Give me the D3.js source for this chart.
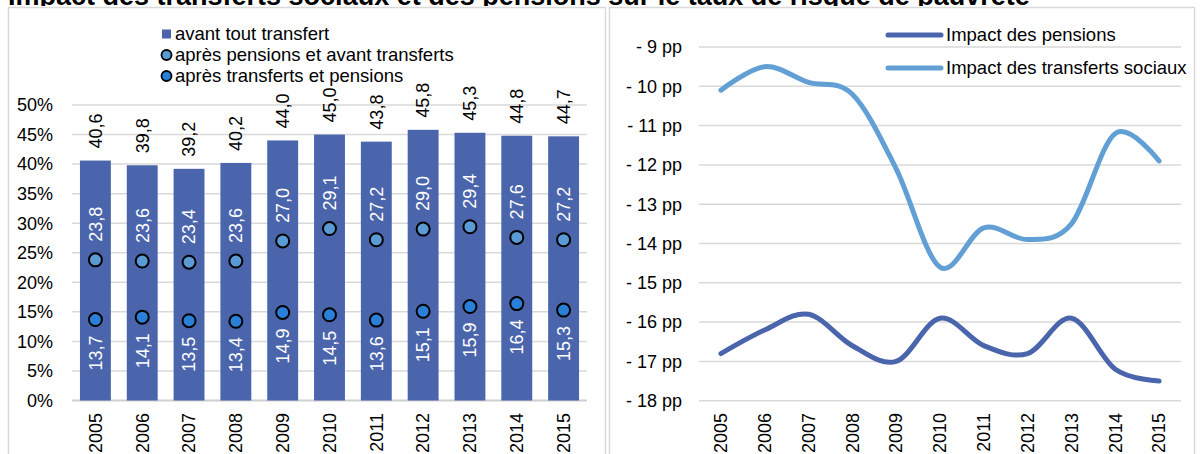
<!DOCTYPE html>
<html>
<head>
<meta charset="utf-8">
<script src="https://cdn.jsdelivr.net/npm/d3@7"></script>
<style>
  html, body { margin: 0; padding: 0; background: #fff; }
  svg { display: block; font-family: "Liberation Sans", Arial, sans-serif; }
</style>
</head>
<body>
<svg id="chart" width="1200" height="454"></svg>
<script>
// Taux de risque de pauvreté (%), par année
const years = ["2005","2006","2007","2008","2009","2010","2011","2012","2013","2014","2015"];
const avantTout = [40.6, 39.8, 39.2, 40.2, 44.0, 45.0, 43.8, 45.8, 45.3, 44.8, 44.7];
const apresPensions = [23.8, 23.6, 23.4, 23.6, 27.0, 29.1, 27.2, 29.0, 29.4, 27.6, 27.2];
const apresTransferts = [13.7, 14.1, 13.5, 13.4, 14.9, 14.5, 13.6, 15.1, 15.9, 16.4, 15.3];

// Impact en points de pourcentage
const impactPensions = [-16.8, -16.2, -15.8, -16.6, -17.0, -15.9, -16.6, -16.8, -15.9, -17.2, -17.5];
const impactTransferts = [-10.1, -9.5, -9.9, -10.2, -12.1, -14.6, -13.6, -13.9, -13.5, -11.2, -11.9];

// Graduations
const pctTicks = [0, 5, 10, 15, 20, 25, 30, 35, 40, 45, 50];
const ppTicks = [-9, -10, -11, -12, -13, -14, -15, -16, -17, -18];

const legendLeft = ["avant tout transfert", "après pensions et avant transferts", "après transferts et pensions"];
const legendRight = ["Impact des pensions", "Impact des transferts sociaux"];
const titleText = "Impact des transferts sociaux et des pensions sur le taux de risque de pauvreté";

const C_BAR = "#4a65ac";
const C_MID = "#5b9bd5";
const C_LOW = "#2a80d8";
const C_PENS = "#4a65ac";
const C_TRANS = "#629fd4";
const C_GRID = "#d9d9d9";
const FS = 18;
const fmt = v => v.toFixed(1).replace(".", ",");

const svg = d3.select("#chart");

// Titre (coupé en haut)
svg.append("defs").append("clipPath").attr("id", "titleClip")
  .append("rect").attr("x", 0).attr("y", 0).attr("width", 1200).attr("height", 6);
svg.append("text")
  .attr("clip-path", "url(#titleClip)")
  .attr("x", 8).attr("y", 5)
  .attr("font-size", 27).attr("font-weight", "bold").attr("fill", "#000")
  .text(titleText);

// Cadres des deux panneaux
svg.append("rect").attr("x", 8.5).attr("y", 7.5).attr("width", 597).attr("height", 460)
  .attr("fill", "none").attr("stroke", C_GRID).attr("stroke-width", 1.5);
svg.append("rect").attr("x", 609.5).attr("y", 7.5).attr("width", 585).attr("height", 460)
  .attr("fill", "none").attr("stroke", C_GRID).attr("stroke-width", 1.5);

// ---------- Panneau gauche : barres + marqueurs ----------
const xL = d3.scaleBand().domain(years).range([72, 587]).paddingInner(0.34).paddingOuter(0.17);
const yL = d3.scaleLinear().domain([0, 50]).range([400.5, 105]);

const gL = svg.append("g");
gL.selectAll("line.grid").data(pctTicks).join("line")
  .attr("x1", 72).attr("x2", 587)
  .attr("y1", d => yL(d)).attr("y2", d => yL(d))
  .attr("stroke", d => d === 0 ? "#cfcfcf" : C_GRID)
  .attr("stroke-width", d => d === 0 ? 2 : 1.5);

gL.selectAll("text.ytick").data(pctTicks).join("text")
  .attr("x", 53).attr("y", d => yL(d)).attr("dy", "0.35em")
  .attr("text-anchor", "end").attr("font-size", FS).attr("fill", "#000")
  .text(d => d + "%");

gL.selectAll("rect.bar").data(years).join("rect")
  .attr("x", d => xL(d)).attr("width", xL.bandwidth())
  .attr("y", (d, i) => yL(avantTout[i]))
  .attr("height", (d, i) => yL(0) - yL(avantTout[i]))
  .attr("fill", C_BAR);

const cx = d => xL(d) + xL.bandwidth() / 2;

// Étiquettes au-dessus des barres
gL.selectAll("text.top").data(years).join("text")
  .attr("transform", (d, i) => `translate(${cx(d)},${yL(avantTout[i]) - 12}) rotate(-90)`)
  .attr("dy", "0.35em").attr("font-size", FS).attr("fill", "#000")
  .text((d, i) => fmt(avantTout[i]));

// Marqueurs après pensions
gL.selectAll("circle.mid").data(years).join("circle")
  .attr("cx", cx).attr("cy", (d, i) => yL(apresPensions[i])).attr("r", 6.5)
  .attr("fill", C_MID).attr("stroke", "#000").attr("stroke-width", 2);
gL.selectAll("text.mid").data(years).join("text")
  .attr("transform", (d, i) => `translate(${cx(d)},${yL(apresPensions[i]) - 18}) rotate(-90)`)
  .attr("dy", "0.35em").attr("font-size", FS).attr("fill", "#fff")
  .text((d, i) => fmt(apresPensions[i]));

// Marqueurs après transferts
gL.selectAll("circle.low").data(years).join("circle")
  .attr("cx", cx).attr("cy", (d, i) => yL(apresTransferts[i])).attr("r", 6.5)
  .attr("fill", C_LOW).attr("stroke", "#000").attr("stroke-width", 2);
gL.selectAll("text.low").data(years).join("text")
  .attr("transform", (d, i) => `translate(${cx(d)},${yL(apresTransferts[i]) + 16}) rotate(-90)`)
  .attr("dy", "0.35em").attr("text-anchor", "end").attr("font-size", FS).attr("fill", "#fff")
  .text((d, i) => fmt(apresTransferts[i]));

// Années
gL.selectAll("text.year").data(years).join("text")
  .attr("transform", d => `translate(${cx(d)},413) rotate(-90)`)
  .attr("dy", "0.35em").attr("text-anchor", "end").attr("font-size", FS).attr("fill", "#000")
  .text(d => d);

// Légende gauche
const lg = svg.append("g");
const lgY = [34, 55, 76];
lg.append("rect").attr("x", 162).attr("y", lgY[0] - 4.5).attr("width", 9).attr("height", 9).attr("fill", C_BAR);
lg.append("circle").attr("cx", 166.5).attr("cy", lgY[1]).attr("r", 5)
  .attr("fill", C_MID).attr("stroke", "#000").attr("stroke-width", 1.8);
lg.append("circle").attr("cx", 166.5).attr("cy", lgY[2]).attr("r", 5)
  .attr("fill", C_LOW).attr("stroke", "#000").attr("stroke-width", 1.8);
lg.selectAll("text").data(legendLeft).join("text")
  .attr("x", 175).attr("y", (d, i) => lgY[i]).attr("dy", "0.35em")
  .attr("font-size", 18.5).attr("fill", "#000").text(d => d);

// ---------- Panneau droit : courbes lissées ----------
const xR = d3.scaleBand().domain(years).range([699, 1181]);
const yR = d3.scaleLinear().domain([-18, -9]).range([400.7, 47]);
const cxR = d => xR(d) + xR.bandwidth() / 2;

const gR = svg.append("g");
gR.selectAll("line.grid").data(ppTicks).join("line")
  .attr("x1", 699).attr("x2", 1181)
  .attr("y1", d => yR(d)).attr("y2", d => yR(d))
  .attr("stroke", C_GRID).attr("stroke-width", 1.5);
gR.selectAll("text.ytick").data(ppTicks).join("text")
  .attr("x", 682).attr("y", d => yR(d)).attr("dy", "0.35em")
  .attr("text-anchor", "end").attr("font-size", FS).attr("fill", "#000")
  .text(d => "- " + Math.abs(d) + " pp");

const line = d3.line()
  .x((v, i) => cxR(years[i]))
  .y(v => yR(v))
  .curve(d3.curveCardinal.tension(0));

gR.append("path").datum(impactTransferts).attr("d", line)
  .attr("fill", "none").attr("stroke", C_TRANS).attr("stroke-width", 5)
  .attr("stroke-linecap", "round").attr("stroke-linejoin", "round");
gR.append("path").datum(impactPensions).attr("d", line)
  .attr("fill", "none").attr("stroke", C_PENS).attr("stroke-width", 5)
  .attr("stroke-linecap", "round").attr("stroke-linejoin", "round");

gR.selectAll("text.year").data(years).join("text")
  .attr("transform", d => `translate(${cxR(d)},413) rotate(-90)`)
  .attr("dy", "0.35em").attr("text-anchor", "end").attr("font-size", FS).attr("fill", "#000")
  .text(d => d);

// Légende droite
const rgY = [35, 68];
const rgC = [C_PENS, C_TRANS];
const rg = svg.append("g");
rg.selectAll("line").data(legendRight).join("line")
  .attr("x1", 888).attr("x2", 941)
  .attr("y1", (d, i) => rgY[i]).attr("y2", (d, i) => rgY[i])
  .attr("stroke", (d, i) => rgC[i]).attr("stroke-width", 5).attr("stroke-linecap", "round");
rg.selectAll("text").data(legendRight).join("text")
  .attr("x", 946).attr("y", (d, i) => rgY[i]).attr("dy", "0.35em")
  .attr("font-size", 18.5).attr("fill", "#000").text(d => d);
</script>
</body>
</html>
